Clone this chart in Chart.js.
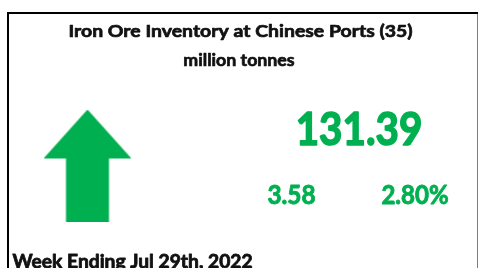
<!DOCTYPE html>
<html>
<head>
<meta charset="utf-8">
<script src="https://cdn.jsdelivr.net/npm/chart.js@4"></script>
<style>
  html, body { margin: 0; padding: 0; background: #fff; }
  #wrap { width: 478px; height: 268px; }
</style>
</head>
<body>
<div id="wrap"><canvas id="kpi"></canvas></div>
<script>
/* Iron ore port inventory — weekly KPI card */

const TITLE_LINES = ['Iron Ore Inventory at Chinese Ports (35)', 'million tonnes'];
const LATEST = [131.39];          // million tonnes
const CHANGE = [3.58];            // week-on-week, million tonnes
const CHANGE_PCT = [2.80];        // week-on-week, %
const WEEK_LABEL = ['Week Ending Jul 29th, 2022'];

const GREEN = '#00B050';
const RED = '#C00000';
const FONT = "Lato, 'Open Sans', sans-serif";

// ── Arrow glyph used as the point style ─────────────────────

function arrowImage(color) {
  const c = document.createElement('canvas');
  c.width = 88; c.height = 113;
  const g = c.getContext('2d');
  g.fillStyle = color;
  g.beginPath();
  g.moveTo(44, 0);
  g.lineTo(88, 49);
  g.lineTo(65.5, 49);
  g.lineTo(65.5, 113);
  g.lineTo(22.5, 113);
  g.lineTo(22.5, 49);
  g.lineTo(0, 49);
  g.closePath();
  g.fill();
  return c;
}

// bold text at a given size, squeezed horizontally to a target width
// and thickened a little (stands in for the heavier Calibri of the original)
function drawFit(ctx, text, x, y, width, size, weight, align) {
  ctx.font = 'bold ' + size + 'px ' + FONT;
  const w = ctx.measureText(text).width + weight;
  const sx = width / w;
  ctx.save();
  ctx.translate(x, y);
  ctx.scale(sx, 1);
  ctx.textAlign = align || 'center';
  ctx.strokeStyle = ctx.fillStyle;
  ctx.lineWidth = weight;
  ctx.lineJoin = 'round';
  ctx.fillText(text, 0, 0);
  ctx.strokeText(text, 0, 0);
  ctx.restore();
}

const up = CHANGE[0] >= 0;
const color = up ? GREEN : RED;

const cardPlugin = {
  id: 'card',
  beforeDraw(chart) {
    const ctx = chart.ctx;
    ctx.save();
    ctx.fillStyle = '#fff';
    ctx.fillRect(0, 0, chart.width, chart.height);
    // frame
    ctx.fillStyle = '#000';
    ctx.fillRect(7, 12, chart.width - 7, 2);
    ctx.fillRect(7, 12, 2, chart.height - 12);
    ctx.fillStyle = 'rgba(220,40,40,0.8)';
    ctx.fillRect(chart.width - 1, 14, 1, chart.height - 14);
    ctx.restore();
  },
  afterDraw(chart) {
    const ctx = chart.ctx;
    ctx.save();
    ctx.textBaseline = 'alphabetic';

    ctx.fillStyle = '#111';
    drawFit(ctx, TITLE_LINES[0], 240.5, 36.5, 345, 17.5, 0.7);
    drawFit(ctx, TITLE_LINES[1], 239, 66, 112, 17.5, 0.7);

    ctx.fillStyle = color;
    drawFit(ctx, LATEST[0].toFixed(2), 359, 145, 128, 46, 1.6);
    drawFit(ctx, CHANGE[0].toFixed(2), 291.5, 204, 49, 26.5, 0.9);
    drawFit(ctx, CHANGE_PCT[0].toFixed(2) + '%', 415, 204, 68, 26.5, 0.9);

    ctx.fillStyle = '#111';
    drawFit(ctx, WEEK_LABEL[0], 12.5, 267.5, 241, 19, 0.8, 'left');
    ctx.restore();
  }
};

new Chart(document.getElementById('kpi'), {
  type: 'scatter',
  data: {
    datasets: [{
      data: [{ x: 0, y: Math.sign(CHANGE[0]) }],
      pointStyle: arrowImage(color),
      rotation: up ? 0 : 180
    }]
  },
  options: {
    responsive: true,
    maintainAspectRatio: false,
    animation: false,
    devicePixelRatio: 1,
    layout: { padding: { left: 44, right: 347, top: 110, bottom: 46 } },
    plugins: { legend: { display: false }, tooltip: { enabled: false } },
    scales: {
      x: { display: false, min: -1, max: 1 },
      y: { display: false, min: 0, max: 2 }
    }
  },
  plugins: [cardPlugin]
});
</script>
</body>
</html>
